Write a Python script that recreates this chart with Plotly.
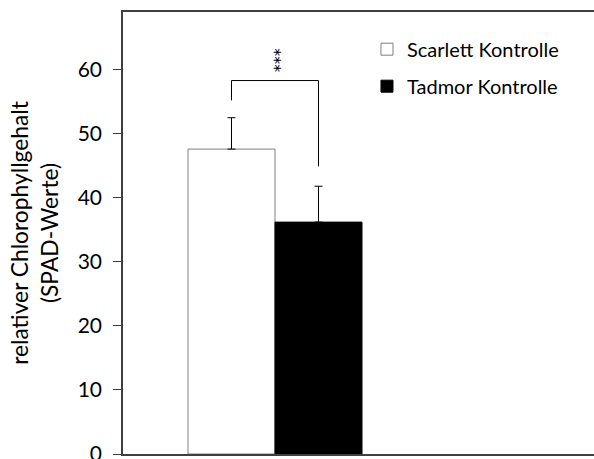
import plotly.graph_objects as go

# Data
series_names = ["Scarlett Kontrolle", "Tadmor Kontrolle"]
means = [47.6, 36.2]
errors = [4.9, 5.6]
bar_colors = ["white", "black"]
line_colors = ["#7f7f7f", "black"]
y_ticks = [0, 10, 20, 30, 40, 50, 60]
significance = "***"
y_title = "relativer Chlorophyllgehalt<br>(SPAD-Werte)"

bar_width = 0.29
x_pos = [(i - (len(means) - 1) / 2) * bar_width for i in range(len(means))]

fig = go.Figure()
for i, name in enumerate(series_names):
    fig.add_trace(go.Bar(
        x=[x_pos[i]], y=[means[i]], width=bar_width, name=name,
        legendgroup=name,
        marker=dict(color=bar_colors[i], line=dict(color=line_colors[i], width=1)),
        error_y=dict(type="data", array=[errors[i]], arrayminus=[0], symmetric=False,
                     color="black", thickness=1, width=4),
    ))

# significance bracket
left_top = means[0] + errors[0] + 2.7
right_top = means[1] + errors[1] + 3.1
bracket_y = 58.3
line = dict(color="black", width=1)
fig.add_shape(type="line", x0=x_pos[0], x1=x_pos[0], y0=left_top, y1=bracket_y, line=line)
fig.add_shape(type="line", x0=x_pos[0], x1=x_pos[1], y0=bracket_y, y1=bracket_y, line=line)
fig.add_shape(type="line", x0=x_pos[1], x1=x_pos[1], y0=right_top, y1=bracket_y, line=line)
fig.add_annotation(x=sum(x_pos) / 2, y=bracket_y + 1.0, text=significance, textangle=90,
                   showarrow=False, yanchor="bottom", xanchor="center",
                   font=dict(size=16, color="black", family="DejaVu Sans"))

fig.update_layout(
    width=594, height=459,
    margin=dict(l=123, r=0, t=12, b=5),
    plot_bgcolor="white", paper_bgcolor="white",
    font=dict(family="Lato", color="black"),
    showlegend=True,
    legend=dict(x=0.518, y=0.96, xanchor="left", yanchor="top",
                font=dict(size=20, color="black"), traceorder="grouped",
                tracegroupgap=8, bgcolor="rgba(0,0,0,0)", itemwidth=30),
    xaxis=dict(range=[-0.5067, 1.0633], showticklabels=False, ticks="",
               showgrid=False, zeroline=False, showline=True, linecolor="#404040",
               linewidth=1.5, mirror=True, automargin=False),
    yaxis=dict(range=[0, 69], tickvals=y_ticks, ticks="outside", ticklen=8,
               tickcolor="#404040", showgrid=False, zeroline=False, showline=True,
               linecolor="#404040", linewidth=1.5, tickfont=dict(size=21),
               ticklabeloverflow="allow", ticklabelstandoff=7, automargin=False,
               title=dict(text=y_title, font=dict(size=22.8), standoff=13)),
)

fig.write_html("out.html")
